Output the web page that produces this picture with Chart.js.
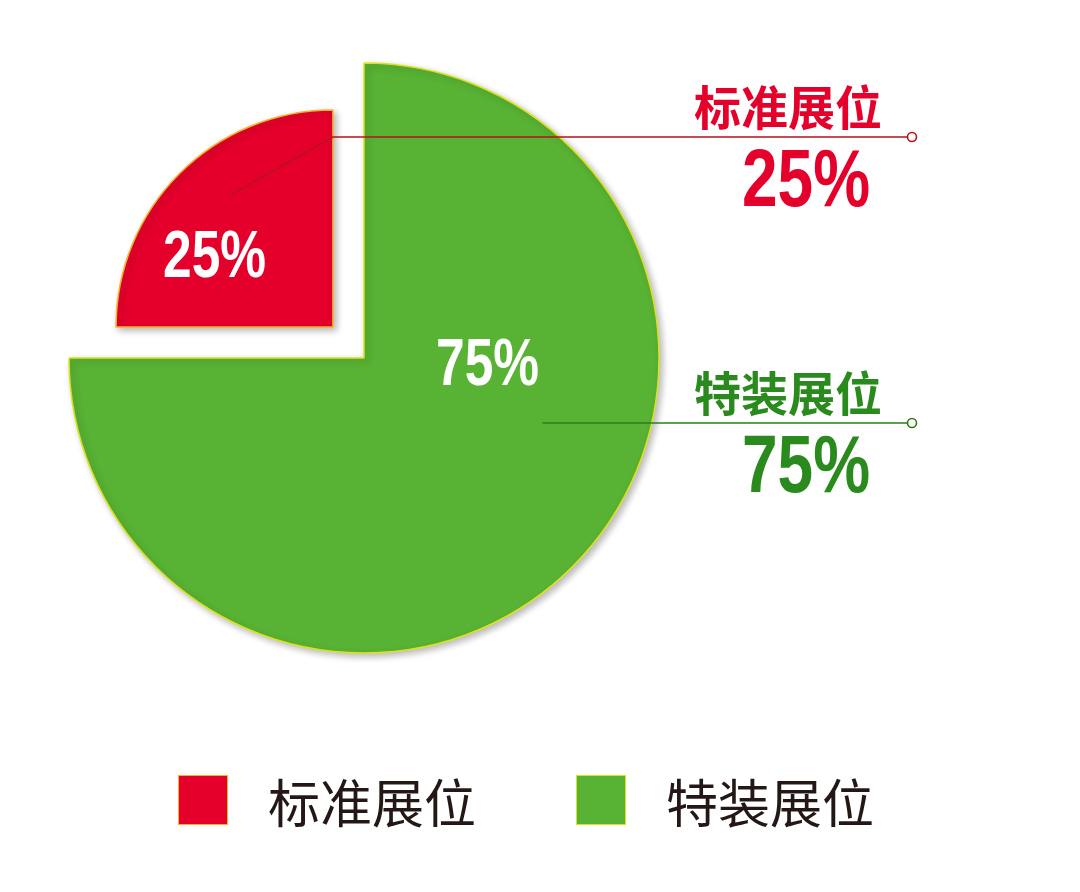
<!DOCTYPE html>
<html lang="zh">
<head>
<meta charset="utf-8">
<script src="https://cdn.jsdelivr.net/npm/chart.js@4.4.1/dist/chart.umd.min.js"></script>
<style>
  html, body { margin: 0; padding: 0; background: #fff; }
  #wrap { position: relative; width: 1080px; height: 892px; }
  #legend {
    position: absolute; left: 178px; top: 770px; height: 60px;
    display: flex; align-items: center; gap: 100px;
  }
  .item {
    display: flex; align-items: center;
    font-family: "Noto Sans CJK SC", sans-serif; font-size: 52px; color: #231815;
  }
  .box { width: 50px; height: 50px; border: 1.5px solid; box-sizing: border-box; margin-right: 40px; }
</style>
</head>
<body>
<div id="wrap">
  <canvas id="pie"></canvas>
  <div id="legend"></div>
</div>
<script>
// data
const labels = ["标准展位", "特装展位"];
const shares = [25, 75];

// styles
const fills = ["#e4002b", "#58b233"];
const edges = ["#f2b22a", "#dde21c"];
const textColors = ["#e4002b", "#2a8a1d"];
const lineColors = ["#b8121e", "#2a7d1c"];

const R = 295;                 // outer radius of the big slice
const sliceScale = [0.735, 1]; // red slice is drawn smaller
const explode = [176, 0];      // chart.js offset
const innerLabelAt = [[300, 0.63], [94, 0.42]]; // [deg from top, fraction of r]
const leaderAt = [[322, 0.77], [110, 0.645]];
const calloutY = [137, 423];
const calloutRight = 907;

// point on a circle, angle measured clockwise from 12 o'clock
function polar(c, deg, r) {
  const a = (deg - 90) * Math.PI / 180;
  return { x: c.x + Math.cos(a) * r, y: c.y + Math.sin(a) * r };
}

// where the slice really sits after the offset translation
function sliceCenter(arc) {
  const mid = (arc.startAngle + arc.endAngle) / 2;
  const shift = (arc.options.offset || 0) / 4;
  return { x: arc.x + Math.cos(mid) * shift, y: arc.y + Math.sin(mid) * shift };
}

// condensed bold numbers (no narrow font installed, so squeeze it)
function narrowText(ctx, txt, x, y, size, align) {
  ctx.save();
  ctx.translate(x, y);
  ctx.scale(0.78, 1);
  ctx.font = "bold " + size + 'px "Liberation Sans", Arial, sans-serif';
  ctx.textAlign = align;
  ctx.textBaseline = "middle";
  ctx.fillText(txt, 0, 0);
  ctx.restore();
}

const pieDecor = {
  id: "pieDecor",
  afterDatasetsUpdate(chart) {
    chart.getDatasetMeta(0).data.forEach((arc, i) => {
      arc.outerRadius = R * sliceScale[i];
    });
  },
  beforeDatasetsDraw(chart) {
    const ctx = chart.ctx;
    ctx.save();
    ctx.shadowColor = "rgba(0,0,0,0.28)";
    ctx.shadowBlur = 7;
    ctx.shadowOffsetX = 3;
    ctx.shadowOffsetY = 3;
  },
  afterDatasetsDraw(chart) {
    const ctx = chart.ctx;
    ctx.restore();
    const arcs = chart.getDatasetMeta(0).data;

    arcs.forEach((arc, i) => {
      const c = sliceCenter(arc);
      const r = arc.outerRadius;

      // leader line + small ring at the end
      const a = polar(c, leaderAt[i][0], r * leaderAt[i][1]);
      const elbowX = Math.max(a.x, c.x);
      ctx.save();
      ctx.strokeStyle = lineColors[i];
      ctx.lineWidth = 1.6;
      ctx.beginPath();
      ctx.moveTo(a.x, a.y);
      ctx.lineTo(elbowX, calloutY[i]);
      ctx.lineTo(calloutRight, calloutY[i]);
      ctx.stroke();
      ctx.fillStyle = "#fff";
      ctx.beginPath();
      ctx.arc(calloutRight + 5, calloutY[i], 4.5, 0, Math.PI * 2);
      ctx.fill();
      ctx.stroke();

      // callout texts
      ctx.fillStyle = textColors[i];
      ctx.textAlign = "right";
      ctx.textBaseline = "middle";
      ctx.font = 'bold 47px "Noto Sans CJK SC", sans-serif';
      ctx.fillText(labels[i], 882, calloutY[i] - 30);
      narrowText(ctx, shares[i] + "%", 870, calloutY[i] + 46, 82, "right");

      // percentage inside the slice
      const p = polar(c, innerLabelAt[i][0], r * innerLabelAt[i][1]);
      ctx.fillStyle = "#fff";
      narrowText(ctx, shares[i] + "%", p.x, p.y, 66, "center");
      ctx.restore();
    });
  }
};

new Chart(document.getElementById("pie"), {
  type: "pie",
  data: {
    labels: labels,
    datasets: [{
      data: shares,
      backgroundColor: fills,
      borderColor: edges,
      borderWidth: 1.5,
      offset: explode
    }]
  },
  options: {
    responsive: true,
    maintainAspectRatio: false,
    animation: false,
    events: [],
    rotation: 270,
    radius: R,
    layout: { padding: { left: 0, top: 0, right: 1080 - 2 * 364, bottom: 892 - 2 * 358 } },
    plugins: {
      legend: { display: false },
      tooltip: { enabled: false }
    }
  },
  plugins: [pieDecor]
});

// legend from the same arrays
const legend = document.getElementById("legend");
labels.forEach((name, i) => {
  const item = document.createElement("div");
  item.className = "item";
  const box = document.createElement("span");
  box.className = "box";
  box.style.background = fills[i];
  box.style.borderColor = edges[i];
  item.appendChild(box);
  item.appendChild(document.createTextNode(name));
  legend.appendChild(item);
});
</script>
</body>
</html>
